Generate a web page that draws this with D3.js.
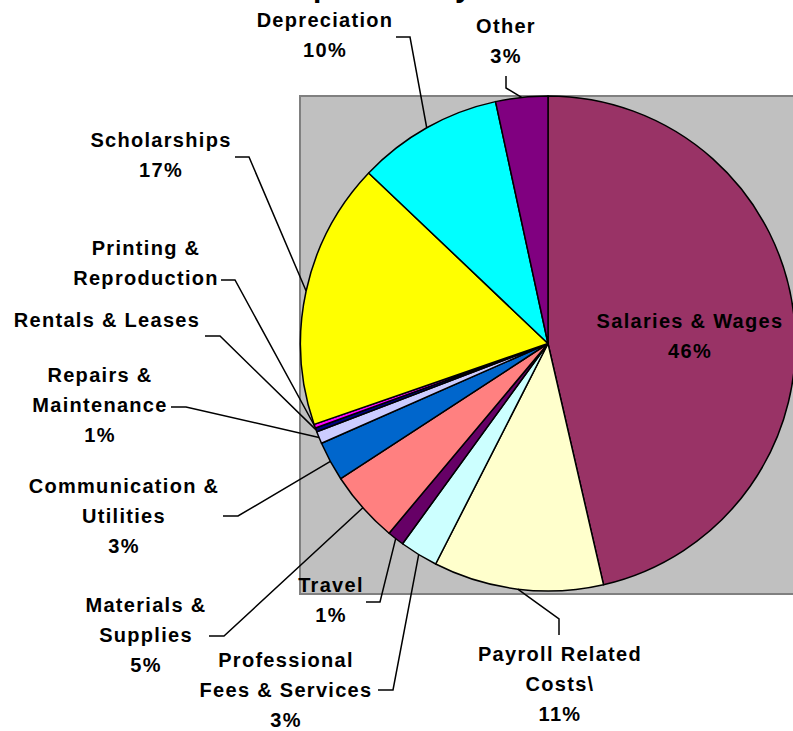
<!DOCTYPE html>
<html lang="en">
<head>
    <meta charset="UTF-8">
    <title>Expenses by Natural Classification</title>
    <script type="text/javascript" src="https://cdn.jsdelivr.net/npm/d3@7/dist/d3.min.js"></script>
    <style type="text/css">
        body { margin: 0; background: #fff; }
        svg { display: block; }
        text { font-family: "Liberation Sans", Arial, sans-serif; font-weight: bold; }
    </style>
</head>
<body>
    <script type="text/javascript">
        //Data, clockwise from 12 o'clock
        var categories = ["Salaries & Wages", "Payroll Related Costs\\", "Professional Fees & Services",
            "Travel", "Materials & Supplies", "Communication & Utilities", "Repairs & Maintenance",
            "Rentals & Leases", "Printing & Reproduction", "Scholarships", "Depreciation", "Other"];
        var values = [46.4, 11.1, 2.5, 1.1, 4.7, 2.6, 0.8, 0.25, 0.25, 17.4, 9.5, 3.4];
        var labelLines = [
            ["Salaries & Wages"], ["Payroll Related", "Costs\\"], ["Professional", "Fees & Services"],
            ["Travel"], ["Materials &", "Supplies"], ["Communication &", "Utilities"],
            ["Repairs &", "Maintenance"], ["Rentals & Leases"], ["Printing &", "Reproduction"],
            ["Scholarships"], ["Depreciation"], ["Other"]
        ];
        var showPct = [true, true, true, true, true, true, true, false, false, true, true, true];
        var colors = ["#993366", "#FFFFCC", "#CCFFFF", "#660066", "#FF8080", "#0066CC",
            "#CCCCFF", "#000080", "#FF00FF", "#FFFF00", "#00FFFF", "#800080"];

        //Width and height
        var w = 793;
        var h = 731;
        var cx = 548, cy = 343.5, r = 247.5;

        //Label placement: text anchor (x, first baseline) and leader start + elbow
        var layout = [
            { x: 690, y: 328, lead: null },
            { x: 560, y: 661, lead: [[559, 635], [559, 619]] },
            { x: 286, y: 667, lead: [[378, 690], [393, 690]] },
            { x: 331, y: 592, lead: [[366, 602], [380, 602]] },
            { x: 146, y: 612, lead: [[209, 636], [224, 636]] },
            { x: 124, y: 493, lead: [[223, 516], [238, 516]] },
            { x: 100, y: 382, lead: [[171, 407], [186, 407]] },
            { x: 107, y: 327, lead: [[205, 336], [220, 336]] },
            { x: 146, y: 255, lead: [[221, 280], [235, 280]] },
            { x: 161, y: 147, lead: [[235, 157], [249, 157]] },
            { x: 325, y: 27, lead: [[396, 37], [410, 37]] },
            { x: 506, y: 33, lead: [[506, 76], [506, 88]] }
        ];

        var total = d3.sum(values);
        var pctFormat = function(v) { return Math.round(v / total * 100) + "%"; };

        //Create SVG element
        var svg = d3.select("body")
            .append("svg")
            .attr("width", w)
            .attr("height", h);

        //Title (mostly cut off at the top edge, as in the source)
        svg.append("text")
            .attr("x", 548)
            .attr("y", -3)
            .attr("text-anchor", "middle")
            .attr("font-size", "30px")
            .attr("letter-spacing", "1.5px")
            .text("Expenses by Natural Classification");

        //Plot area
        svg.append("rect")
            .attr("x", 300)
            .attr("y", 96)
            .attr("width", 520)
            .attr("height", 498)
            .attr("fill", "#C0C0C0")
            .attr("stroke", "#808080")
            .attr("stroke-width", 2);

        var pie = d3.pie().sort(null).value(function(d) { return d; });
        var arcs = pie(values);
        var arc = d3.arc().innerRadius(0).outerRadius(r);
        var edge = d3.arc().innerRadius(r).outerRadius(r);

        var g = svg.append("g").attr("transform", "translate(" + cx + "," + cy + ")");

        //Slices
        g.selectAll("path.slice")
            .data(arcs)
            .enter()
            .append("path")
            .attr("class", "slice")
            .attr("d", arc)
            .attr("fill", function(d, i) { return colors[i]; })
            .attr("stroke", "#000")
            .attr("stroke-width", 1.5)
            .attr("stroke-linejoin", "round");

        //Leader lines
        svg.selectAll("polyline.leader")
            .data(arcs.filter(function(d, i) { return layout[i].lead; }))
            .enter()
            .append("polyline")
            .attr("class", "leader")
            .attr("points", function(d) {
                var l = layout[d.index].lead;
                var p = edge.centroid(d);
                return [l[0], l[1], [p[0] + cx, p[1] + cy]].join(" ");
            })
            .attr("fill", "none")
            .attr("stroke", "#000")
            .attr("stroke-width", 1.5);

        //Labels
        var labels = svg.selectAll("text.label")
            .data(arcs)
            .enter()
            .append("text")
            .attr("class", "label")
            .attr("text-anchor", "middle")
            .attr("font-size", "20px")
            .attr("letter-spacing", "1.3px")
            .attr("fill", "#000");

        labels.each(function(d, i) {
            var lines = labelLines[i].slice();
            if (showPct[i]) lines.push(pctFormat(values[i]));
            var t = d3.select(this);
            lines.forEach(function(s, k) {
                t.append("tspan")
                    .attr("x", layout[i].x)
                    .attr("y", layout[i].y + k * 30)
                    .text(s);
            });
        });
    </script>
</body>
</html>
